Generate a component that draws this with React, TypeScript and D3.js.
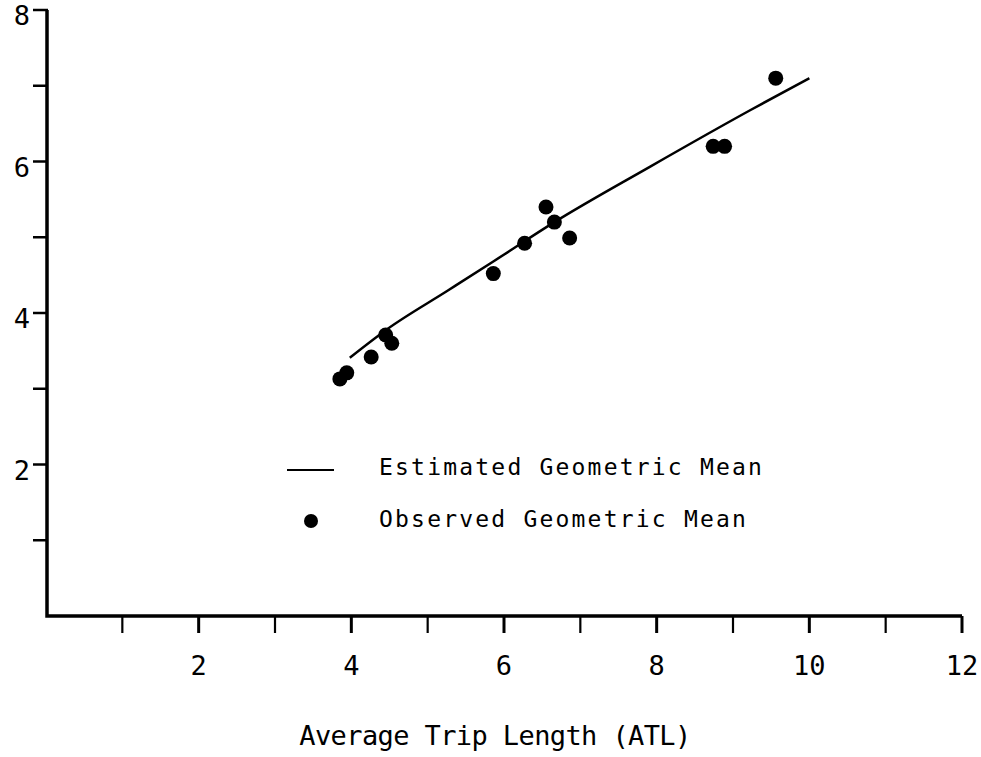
import * as d3 from "d3";
import { useEffect, useRef } from "react";

// observed geometric mean (ATL, mean)
const obsAtl = [3.85, 3.94, 4.26, 4.45, 4.53, 5.86, 6.27, 6.55, 6.66, 6.86, 8.74, 8.89, 9.56];
const obsMean = [3.13, 3.21, 3.42, 3.71, 3.6, 4.52, 4.92, 5.4, 5.2, 4.99, 6.2, 6.2, 7.1];

// estimated geometric mean curve
const estAtl = [3.98, 4.46, 5.27, 5.86, 6.66, 7.91, 9.23, 10.0];
const estMean = [3.41, 3.78, 4.3, 4.68, 5.2, 5.93, 6.68, 7.1];

const xTicks = [1, 2, 3, 4, 5, 6, 7, 8, 9, 10, 11, 12];
const xLabels = [2, 4, 6, 8, 10, 12];
const yTicks = [1, 2, 3, 4, 5, 6, 7, 8];
const yLabels = [2, 4, 6, 8];

const legendItems = ["Estimated Geometric Mean", "Observed Geometric Mean"];
const xTitle = "Average Trip Length (ATL)";

const W = 981;
const H = 757;
const FONT = "'DejaVu Sans Mono', monospace";

export default function App() {
  const ref = useRef<SVGSVGElement>(null);

  useEffect(() => {
    if (!ref.current) return;
    const svg = d3.select(ref.current);
    svg.selectAll("*").remove();

    const x = d3.scaleLinear().domain([0, 12]).range([46, 962]);
    const y = d3.scaleLinear().domain([0, 8]).range([616, 10]);

    // axes lines
    svg
      .append("path")
      .attr("d", `M${x(0) + 1},${y(8)}V${y(0)}H${x(12)}`)
      .attr("fill", "none")
      .attr("stroke", "#000")
      .attr("stroke-width", 3.5);

    // x ticks
    svg
      .selectAll("line.xt")
      .data(xTicks)
      .join("line")
      .attr("class", "xt")
      .attr("x1", (d) => x(d))
      .attr("x2", (d) => x(d))
      .attr("y1", y(0))
      .attr("y2", y(0) + 17)
      .attr("stroke", "#000")
      .attr("stroke-width", (d) => (d % 2 === 0 ? 3 : 2.2));

    svg
      .selectAll("text.xl")
      .data(xLabels)
      .join("text")
      .attr("class", "xl")
      .attr("x", (d) => x(d))
      .attr("y", 675)
      .attr("text-anchor", "middle")
      .style("font-family", FONT)
      .style("font-size", "27px")
      .text((d) => d);

    // y ticks
    svg
      .selectAll("line.yt")
      .data(yTicks)
      .join("line")
      .attr("class", "yt")
      .attr("x1", 33)
      .attr("x2", x(0) + 2)
      .attr("y1", (d) => y(d))
      .attr("y2", (d) => y(d))
      .attr("stroke", "#000")
      .attr("stroke-width", 2.5);

    svg
      .selectAll("text.yl")
      .data(yLabels)
      .join("text")
      .attr("class", "yl")
      .attr("x", 30)
      .attr("y", (d) => y(d) + 15)
      .attr("text-anchor", "end")
      .style("font-family", FONT)
      .style("font-size", "27px")
      .text((d) => d);

    // estimated curve
    const est = estAtl.map((a, i) => [a, estMean[i]] as [number, number]);
    const line = d3
      .line<[number, number]>()
      .x((d) => x(d[0]))
      .y((d) => y(d[1]))
      .curve(d3.curveMonotoneX);
    svg
      .append("path")
      .attr("d", line(est))
      .attr("fill", "none")
      .attr("stroke", "#000")
      .attr("stroke-width", 2.5);

    // observed points
    svg
      .selectAll("circle.obs")
      .data(obsAtl.map((a, i) => [a, obsMean[i]]))
      .join("circle")
      .attr("class", "obs")
      .attr("cx", (d) => x(d[0]))
      .attr("cy", (d) => y(d[1]))
      .attr("r", 7.5)
      .attr("fill", "#000");

    // legend
    const lg = svg.append("g");
    lg.append("line")
      .attr("x1", 287)
      .attr("x2", 334)
      .attr("y1", 470)
      .attr("y2", 470)
      .attr("stroke", "#000")
      .attr("stroke-width", 2);
    lg.append("circle").attr("cx", 311).attr("cy", 521).attr("r", 7).attr("fill", "#000");
    lg.selectAll("text")
      .data(legendItems)
      .join("text")
      .attr("x", 379)
      .attr("y", (d, i) => 475 + i * 52)
      .style("font-family", FONT)
      .style("font-size", "23px")
      .style("letter-spacing", "2.2px")
      .text((d) => d);

    // x title
    svg
      .append("text")
      .attr("x", 495)
      .attr("y", 745)
      .attr("text-anchor", "middle")
      .style("font-family", FONT)
      .style("font-size", "27px")
      .style("letter-spacing", "-0.6px")
      .text(xTitle);
  }, []);

  return (
    <svg
      ref={ref}
      width={W}
      height={H}
      style={{ position: "absolute", left: 0, top: 0, background: "#fff" }}
    />
  );
}
